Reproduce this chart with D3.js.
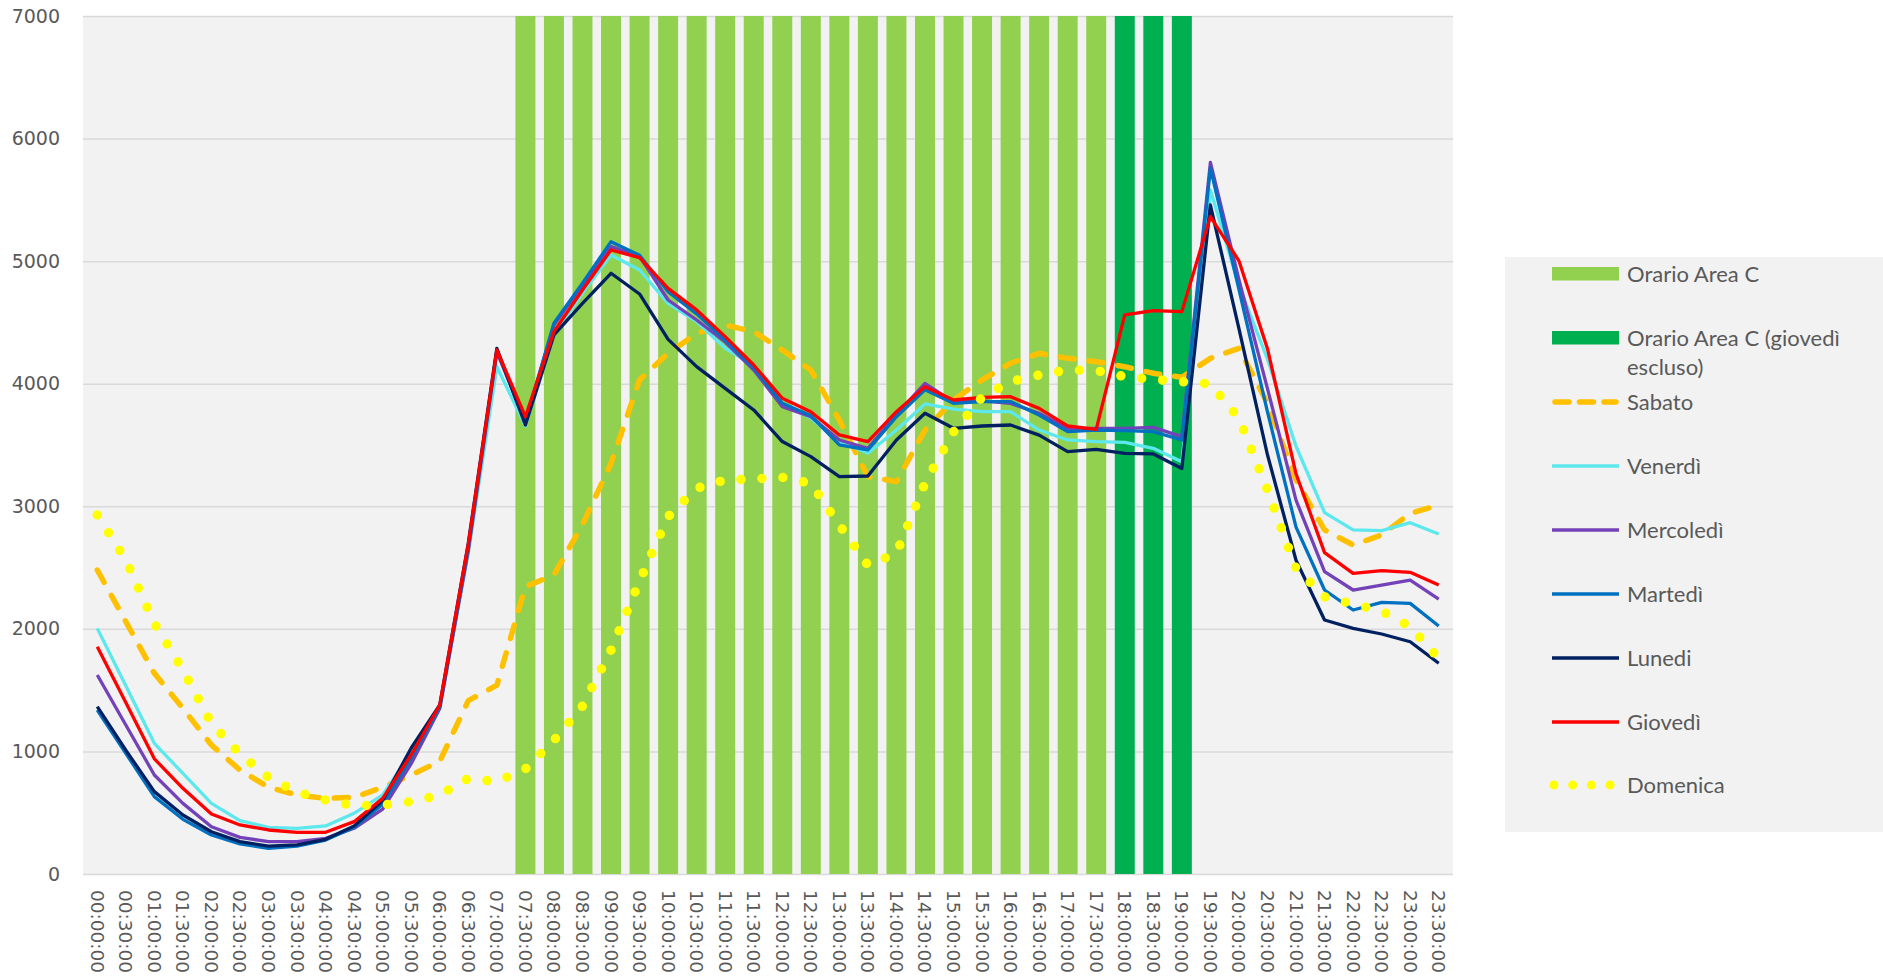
<!DOCTYPE html>
<html>
<head>
<meta charset="utf-8">
<script src="https://cdn.jsdelivr.net/npm/d3@7"></script>
<style>
  body { margin: 0; background: #ffffff; }
  .axis text { font-family: "DejaVu Sans", sans-serif; fill: #595959; }
  .legend text { font-family: "Lato", sans-serif; font-size: 22px; fill: #595959; }
</style>
</head>
<body>
<svg id="chart" width="1883" height="976"></svg>
<script>
// categories (half hours)
var categories = ["00:00:00","00:30:00","01:00:00","01:30:00","02:00:00","02:30:00","03:00:00","03:30:00",
  "04:00:00","04:30:00","05:00:00","05:30:00","06:00:00","06:30:00","07:00:00","07:30:00",
  "08:00:00","08:30:00","09:00:00","09:30:00","10:00:00","10:30:00","11:00:00","11:30:00",
  "12:00:00","12:30:00","13:00:00","13:30:00","14:00:00","14:30:00","15:00:00","15:30:00",
  "16:00:00","16:30:00","17:00:00","17:30:00","18:00:00","18:30:00","19:00:00","19:30:00",
  "20:00:00","20:30:00","21:00:00","21:30:00","22:00:00","22:30:00","23:00:00","23:30:00"];

var yTicks = [0, 1000, 2000, 3000, 4000, 5000, 6000, 7000];

// bar series
var orarioAreaC = [0,0,0,0,0,0,0,0, 0,0,0,0,0,0,0,7000,
  7000,7000,7000,7000,7000,7000,7000,7000, 7000,7000,7000,7000,7000,7000,7000,7000,
  7000,7000,7000,7000,0,0,0,0, 0,0,0,0,0,0,0,0];
var orarioAreaCnoGiov = [0,0,0,0,0,0,0,0, 0,0,0,0,0,0,0,0,
  0,0,0,0,0,0,0,0, 0,0,0,0,0,0,0,0,
  0,0,0,0,7000,7000,7000,0, 0,0,0,0,0,0,0,0];

// line series
var sabato = [2480,2059,1637,1352,1052,848,707,645,617,625,707,808,
  920,1414,1541,2344,2440,2850,3350,4031,4248,4411,4479,4425,4275,4112,3704,3242,3201,3622,3867,4031,
  4167,4248,4207,4180,4139,4085,4052,4207,4289,3840,3215,2807,2684,2766,2942,3010];
var venerdi = [2004,1536,1066,821,576,435,381,373,392,495,645,990,
  1370,2620,4139,3655,4400,4738,5050,4928,4656,4507,4289,4150,3840,3718,3528,3432,3622,3835,3792,3772,
  3772,3622,3541,3528,3522,3473,3364,5581,4800,4200,3490,2948,2807,2801,2866,2774];
var mercoledi = [1624,1216,808,576,386,299,264,264,291,373,530,900,
  1350,2640,4260,3690,4480,4800,5118,5040,4683,4520,4340,4112,3813,3731,3541,3473,3750,4003,3850,3860,
  3840,3759,3636,3636,3636,3644,3568,5805,4850,3960,3050,2467,2317,2357,2398,2243];
var martedi = [1338,984,631,446,318,245,209,228,277,381,570,946,
  1360,2660,4270,3690,4493,4820,5159,5048,4751,4570,4357,4130,3840,3740,3501,3460,3731,3950,3840,3854,
  3854,3745,3609,3622,3617,3609,3541,5758,4770,3770,2830,2317,2154,2216,2208,2023];
var lunedi = [1365,1010,672,481,345,264,228,237,283,391,600,1028,
  1379,2700,4289,3663,4398,4656,4901,4732,4362,4139,3962,3786,3528,3405,3242,3247,3541,3759,3636,3655,
  3663,3581,3446,3465,3432,3427,3309,5458,4450,3420,2560,2072,2004,1958,1895,1719];
var giovedi = [1855,1400,940,699,489,400,359,340,340,427,617,973,
  1379,2690,4275,3731,4425,4765,5091,5029,4778,4602,4384,4153,3881,3772,3582,3528,3772,3976,3867,3889,
  3894,3799,3655,3628,4561,4596,4588,5363,5003,4286,3265,2622,2452,2475,2461,2357];
var domenica = [2929,2562,2045,1664,1229,979,788,668,603,557,563,590,644,780,753,857,
  1090,1370,1827,2390,2915,3147,3215,3223,3236,3187,2847,2520,2616,3188,3607,3890,
  4017,4071,4112,4107,4058,4034,4017,3998,3718,3133,2494,2262,2202,2145,2018,1760];

var svg = d3.select("#chart");
var plotLeft = 83, plotRight = 1453, plotTop = 16, plotBottom = 874;

var x = d3.scaleBand()
    .domain(categories)
    .range([plotLeft, plotRight])
    .paddingInner(0.3)
    .paddingOuter(0.15);
var y = d3.scaleLinear()
    .domain([0, 7000])
    .range([plotBottom, plotTop]);

// plot background
svg.append("rect")
    .attr("x", plotLeft).attr("y", plotTop)
    .attr("width", plotRight - plotLeft).attr("height", plotBottom - plotTop)
    .attr("fill", "#f2f2f2");

// gridlines
svg.append("g")
    .attr("transform", "translate(" + plotLeft + ",0)")
    .call(d3.axisLeft(y).tickValues(yTicks).tickSize(-(plotRight - plotLeft)).tickFormat(""))
    .call(function(g) { g.select(".domain").remove(); })
    .selectAll("line")
    .attr("stroke", "#d9d9d9")
    .attr("stroke-width", 1.5);

// y axis labels
var yAxis = svg.append("g")
    .attr("class", "axis")
    .attr("transform", "translate(" + plotLeft + ",0)")
    .call(d3.axisLeft(y).tickValues(yTicks).tickSize(0).tickPadding(23).tickFormat(d3.format("d")));
yAxis.select(".domain").remove();
yAxis.selectAll("text").style("font-size", "19px");

// x axis labels, rotated to read top-down
var xAxis = svg.append("g")
    .attr("class", "axis")
    .attr("transform", "translate(0," + plotBottom + ")")
    .call(d3.axisBottom(x).tickSize(0));
xAxis.select(".domain").remove();
xAxis.selectAll("text")
    .style("font-size", "18.5px")
    .style("text-anchor", "start")
    .attr("y", 0)
    .attr("x", 16)
    .attr("dy", "0.35em")
    .attr("transform", "rotate(90)");

// bars
function drawBars(values, color) {
    var rows = values.map(function(v, i) { return {cat: categories[i], value: v}; })
        .filter(function(d) { return d.value > 0; });
    svg.append("g")
      .selectAll("rect")
      .data(rows)
      .enter().append("rect")
        .attr("x", function(d) { return x(d.cat); })
        .attr("width", x.bandwidth())
        .attr("y", function(d) { return y(d.value); })
        .attr("height", function(d) { return y(0) - y(d.value); })
        .attr("fill", color);
}
drawBars(orarioAreaC, "#92d050");
drawBars(orarioAreaCnoGiov, "#00b050");

var line = d3.line()
    .x(function(d, i) { return x(categories[i]) + x.bandwidth() / 2; })
    .y(function(d) { return y(d); });

var series = [
    {name: "Sabato", values: sabato, color: "#ffc000", width: 5.5, dash: "14 15"},
    {name: "Venerdì", values: venerdi, color: "#5ce8ec", width: 3.3},
    {name: "Mercoledì", values: mercoledi, color: "#7442b8", width: 3.3},
    {name: "Martedì", values: martedi, color: "#0070c0", width: 3.3},
    {name: "Lunedi", values: lunedi, color: "#002060", width: 3.3},
    {name: "Giovedì", values: giovedi, color: "#ff0000", width: 3.3},
    {name: "Domenica", values: domenica, color: "#ffff00", width: 9.5, dash: "0 21"}
];

series.forEach(function(s) {
    svg.append("path")
        .datum(s.values)
        .attr("d", line)
        .attr("fill", "none")
        .attr("stroke", s.color)
        .attr("stroke-width", s.width)
        .attr("stroke-linejoin", "round")
        .attr("stroke-linecap", s.dash ? "round" : "butt")
        .attr("stroke-dasharray", s.dash || null);
});

// legend
var legend = svg.append("g").attr("class", "legend");
legend.append("rect")
    .attr("x", 1505).attr("y", 257)
    .attr("width", 378).attr("height", 575)
    .attr("fill", "#f2f2f2");

var symX0 = 1552, symX1 = 1619, textX = 1627;

legend.append("rect").attr("x", symX0).attr("y", 267).attr("width", symX1 - symX0).attr("height", 13.5).attr("fill", "#92d050");
legend.append("text").attr("x", textX).attr("y", 274).attr("dy", "0.35em").text("Orario Area C");

legend.append("rect").attr("x", symX0).attr("y", 331).attr("width", symX1 - symX0).attr("height", 13.5).attr("fill", "#00b050");
legend.append("text").attr("x", textX).attr("y", 338).attr("dy", "0.35em").text("Orario Area C (giovedì");
legend.append("text").attr("x", textX).attr("y", 367).attr("dy", "0.35em").text("escluso)");

var legendY = [402, 466, 530, 594, 658, 722, 785];
series.forEach(function(s, i) {
    var ly = legendY[i];
    var dotted = s.name === "Domenica";
    legend.append("line")
        .attr("x1", dotted ? symX0 + 2 : symX0 + (s.dash ? 3 : 0))
        .attr("x2", symX1 - (s.dash ? 3 : 0))
        .attr("y1", ly).attr("y2", ly)
        .attr("stroke", s.color)
        .attr("stroke-width", dotted ? 9 : (s.dash ? 5.5 : 3.3))
        .attr("stroke-linecap", s.dash ? "round" : "butt")
        .attr("stroke-dasharray", dotted ? "0 18.7" : (s.dash ? "14 10.5" : null));
    legend.append("text")
        .attr("x", textX).attr("y", ly).attr("dy", "0.35em")
        .text(s.name);
});
</script>
</body>
</html>
